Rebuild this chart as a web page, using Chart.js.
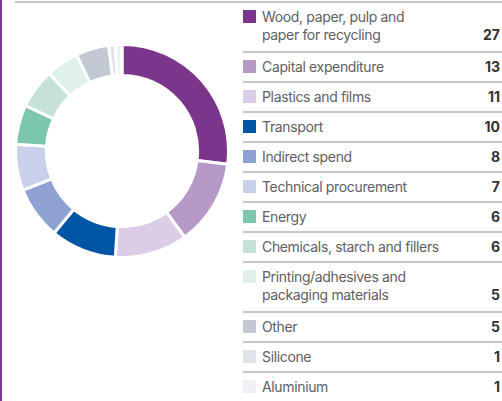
<!DOCTYPE html>
<html>
<head>
<meta charset="utf-8">
<script src="https://cdn.jsdelivr.net/npm/chart.js@4"></script>
<style>
  html, body { margin: 0; padding: 0; background: #fff; }
  body { width: 502px; height: 401px; overflow: hidden; position: relative; font-family: Inter, "Noto Sans", sans-serif; }
  #leftLine { position: absolute; left: 0; top: 0; width: 2px; height: 401px; background: #7b3a8c; }
  #topLine { position: absolute; left: 15px; top: 1px; width: 487px; height: 2px; background: #c8c8c8; }
  #chartBox { position: absolute; left: 14px; top: 43px; width: 216px; height: 216px; }
  #legend { position: absolute; left: 243px; top: 3px; width: 259px; }
  .row { display: flex; align-items: flex-start; padding: 5px 2px 5px 0; border-bottom: 2px solid #c8c8c8; font-size: 14px; line-height: 18px; }
  .row.tall { padding-bottom: 7px; }
  .row:last-child { border-bottom: none; }
  .sw { width: 13px; height: 13px; margin-top: 2px; flex: none; }
  .lbl { margin-left: 6px; color: #606062; flex: 1; letter-spacing: -0.35px; }
  .val { color: #333; font-weight: bold; align-self: flex-end; }
</style>
</head>
<body>
<div id="leftLine"></div>
<div id="topLine"></div>
<div id="chartBox"><canvas id="donutChart"></canvas></div>
<div id="legend"></div>
<script>
// Categorias (as com duas linhas ficam como arrays)
var categorias = [
   ["Wood, paper, pulp and", "paper for recycling"],
   "Capital expenditure",
   "Plastics and films",
   "Transport",
   "Indirect spend",
   "Technical procurement",
   "Energy",
   "Chemicals, starch and fillers",
   ["Printing/adhesives and", "packaging materials"],
   "Other",
   "Silicone",
   "Aluminium",
];
var valores = [27, 13, 11, 10, 8, 7, 6, 6, 5, 5, 1, 1];
var cores = [
   "#7b368c", "#b799c8", "#dccde6", "#0055a5",
   "#8da2d3", "#c8d0eb", "#7cc6ab", "#c4e3d6",
   "#e0f1ec", "#c2c8d4", "#e0e3ea", "#eff0f4",
];

// Gráfico de rosca
var donutChart = new Chart(document.getElementById("donutChart").getContext("2d"), {
   type: "doughnut",
   data: {
      labels: categorias,
      datasets: [
         {
            data: valores,
            backgroundColor: cores,
            borderColor: "#ffffff",
            borderWidth: 3,
         },
      ],
   },
   options: {
      responsive: true,
      maintainAspectRatio: false,
      animation: false,
      cutout: "71%",
      layout: { padding: 0 },
      plugins: {
         legend: { display: false },
         tooltip: { enabled: false },
      },
   },
});

// Legenda em HTML
var legenda = document.getElementById("legend");
categorias.forEach(function (cat, i) {
   var linhas = Array.isArray(cat) ? cat : [cat];
   var row = document.createElement("div");
   row.className = "row" + (linhas.length > 1 ? " tall" : "");
   row.innerHTML =
      '<div class="sw" style="background:' + cores[i] + '"></div>' +
      '<div class="lbl">' + linhas.join("<br>") + "</div>" +
      '<div class="val">' + valores[i] + "</div>";
   legenda.appendChild(row);
});
</script>
</body>
</html>
